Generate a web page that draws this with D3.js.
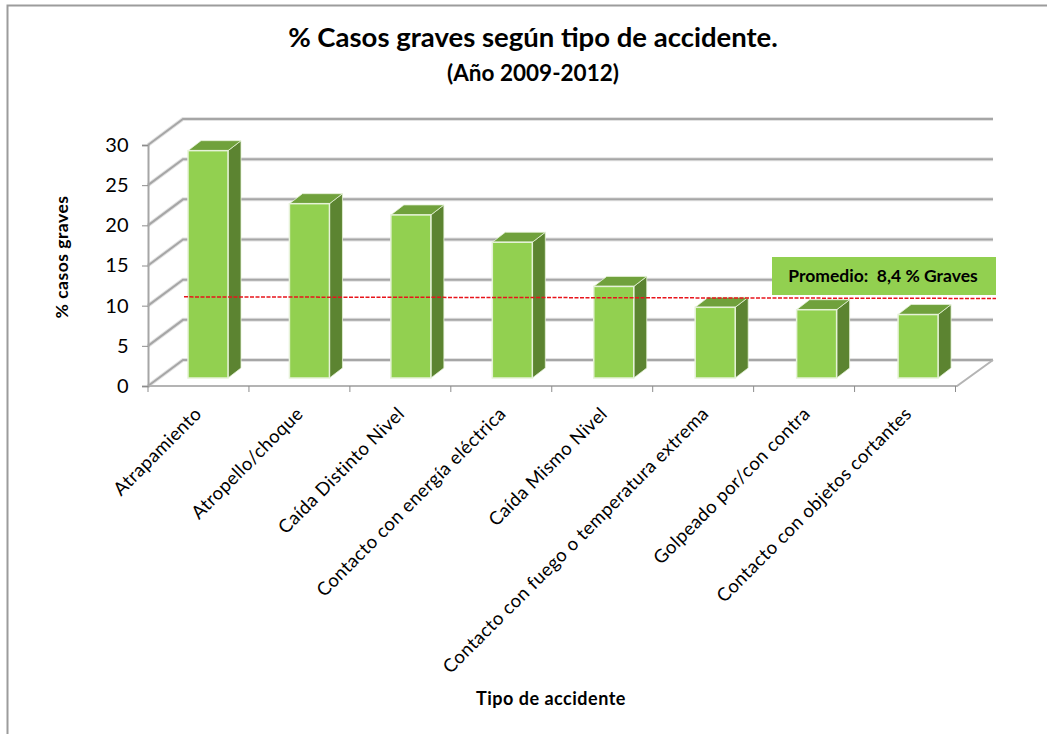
<!DOCTYPE html>
<html>
<head>
<meta charset="utf-8">
<script src="https://cdn.jsdelivr.net/npm/d3@7/dist/d3.min.js"></script>
<style>
	html, body { margin: 0; padding: 0; background: #fff; }
	svg { display: block; }
	text { font-family: Lato, "Open Sans", sans-serif; fill: #000; }
</style>
</head>
<body>
<div id="chartDiv"></div>
<script>
var categories = ["Atrapamiento", "Atropello/choque", "Caída Distinto Nivel", "Contacto con energía eléctrica",
	"Caída Mismo Nivel", "Contacto con fuego o temperatura extrema", "Golpeado por/con contra", "Contacto con objetos cortantes"];
var graves = [28.3, 21.7, 20.3, 16.9, 11.4, 8.8, 8.5, 7.9];
var yTicks = [0, 5, 10, 15, 20, 25, 30];
var promedioLine = [10.1, 9.9];

;(function() {

	var width = 1047;
	var height = 734;
	var depth = { x: 35, y: 26 };
	var barDepth = { x: 13, y: 10 };
	var barWidth = 40;
	var barBase = 8;

	var chart = d3.select("#chartDiv").append("svg")
		.attr("width", width)
		.attr("height", height);

	var xScale = d3.scaleBand().domain(categories).range([148, 959.5]);
	var yScale = d3.scaleLinear().domain([0, 30]).range([386, 145]);
	var edgeScale = d3.scaleLinear().domain([0, categories.length]).range([148, 955.5]);

	// outer border
	chart.append("path")
		.attr("d", "M7.5,734V5.5H1047")
		.attr("fill", "none")
		.attr("stroke", "#9c9c9c")
		.attr("stroke-width", 2);

	// gridlines, soft band first and then the darker core
	var grid = chart.append("g");
	[{ color: "#e2e2e2", w: 4 }, { color: "#a6a6a6", w: 2 }].forEach(function(s) {
		grid.selectAll(null).data(yTicks).enter().append("path")
			.attr("d", function(d) {
				var y = yScale(d);
				return "M148," + y + "L" + (148 + depth.x) + "," + (y - depth.y) + "H993";
			})
			.attr("fill", "none")
			.attr("stroke", s.color)
			.attr("stroke-width", s.w);
	});

	// floor edges
	chart.append("path")
		.attr("d", "M148," + yScale(0) + "H957L993," + (yScale(0) - depth.y))
		.attr("fill", "none")
		.attr("stroke", "#b4b4b4")
		.attr("stroke-width", 2);

	// y axis
	var yAxis = d3.axisLeft(yScale).tickValues(yTicks).tickSize(6).tickPadding(13);
	var yG = chart.append("g")
		.attr("transform", "translate(148,0)")
		.call(yAxis);
	yG.select(".domain").attr("stroke", "#a6a6a6").attr("stroke-width", 2);
	yG.selectAll(".tick line").attr("stroke", "#8c8c8c");
	yG.selectAll(".tick text").style("font-size", "20px").style("letter-spacing", "0.3px");

	// x ticks sit on the band edges, labels on the band centres
	chart.append("g").selectAll("line").data(d3.range(categories.length + 1)).enter().append("line")
		.attr("x1", function(d) { return edgeScale(d); })
		.attr("x2", function(d) { return edgeScale(d); })
		.attr("y1", yScale(0))
		.attr("y2", yScale(0) + 6)
		.attr("stroke", "#8c8c8c");

	var xAxis = d3.axisBottom(xScale).tickSize(0).tickPadding(0);
	var xG = chart.append("g")
		.attr("transform", "translate(0," + yScale(0) + ")")
		.call(xAxis);
	xG.select(".domain").remove();
	xG.selectAll(".tick text")
		.attr("text-anchor", "end")
		.attr("dy", null)
		.attr("y", 0)
		.attr("transform", "translate(4,29) rotate(-45)")
		.style("font-size", "18.5px")
		.style("letter-spacing", "0.4px");

	// bars
	var bars = chart.append("g").selectAll("g").data(categories).enter().append("g")
		.attr("transform", function(d) {
			return "translate(" + (xScale(d) + 40) + "," + (yScale(0) - barBase) + ")";
		});

	function barH(i) { return yScale(0) - yScale(graves[i]); }

	bars.append("path") // side
		.attr("d", function(d, i) {
			return "M" + barWidth + ",0V" + (-barH(i)) + "l" + barDepth.x + "," + (-barDepth.y) + "V" + (-barDepth.y) + "Z";
		})
		.attr("fill", "#5c8431")
		.attr("stroke", "#e6f2d8")
		.attr("stroke-width", 0.8);
	bars.append("path") // top
		.attr("d", function(d, i) {
			return "M0," + (-barH(i)) + "l" + barDepth.x + "," + (-barDepth.y) + "h" + barWidth + "l" + (-barDepth.x) + "," + barDepth.y + "Z";
		})
		.attr("fill", "#70a13c")
		.attr("stroke", "#e6f2d8")
		.attr("stroke-width", 0.8);
	bars.append("rect") // front
		.attr("x", 0)
		.attr("y", function(d, i) { return -barH(i); })
		.attr("width", barWidth)
		.attr("height", function(d, i) { return barH(i); })
		.attr("fill", "#92d050")
		.attr("stroke", "#e6f2d8")
		.attr("stroke-width", 1.5);

	// promedio box and line
	chart.append("rect")
		.attr("x", 772)
		.attr("y", 257)
		.attr("width", 224)
		.attr("height", 38)
		.attr("fill", "#92d050");
	chart.append("text")
		.attr("x", 883)
		.attr("y", 282)
		.attr("text-anchor", "middle")
		.attr("font-weight", "bold")
		.attr("xml:space", "preserve")
		.style("white-space", "pre")
		.style("font-size", "17.5px")
		.text("Promedio:  8,4 % Graves");

	chart.append("line")
		.attr("x1", 184)
		.attr("x2", 996)
		.attr("y1", yScale(promedioLine[0]) - barBase)
		.attr("y2", yScale(promedioLine[1]) - barBase)
		.attr("stroke", "#e8141c")
		.attr("stroke-width", 1.5)
		.attr("stroke-dasharray", "4,1.5");

	// titles
	chart.append("text")
		.attr("x", 533).attr("y", 47)
		.attr("text-anchor", "middle")
		.attr("font-weight", "bold")
		.style("font-size", "27.5px")
		.text("% Casos graves según tipo de accidente.");
	chart.append("text")
		.attr("x", 533).attr("y", 81)
		.attr("text-anchor", "middle")
		.attr("font-weight", "bold")
		.style("font-size", "22.5px")
		.text("(Año 2009-2012)");
	chart.append("text")
		.attr("x", 551).attr("y", 705)
		.attr("text-anchor", "middle")
		.attr("font-weight", "bold")
		.style("font-size", "18px")
		.style("letter-spacing", "0.5px")
		.text("Tipo de accidente");
	chart.append("text")
		.attr("text-anchor", "middle")
		.attr("font-weight", "bold")
		.attr("transform", "translate(68,257) rotate(-90)")
		.style("font-size", "17.5px")
		.style("letter-spacing", "0.5px")
		.text("% casos graves");

})();
</script>
</body>
</html>
